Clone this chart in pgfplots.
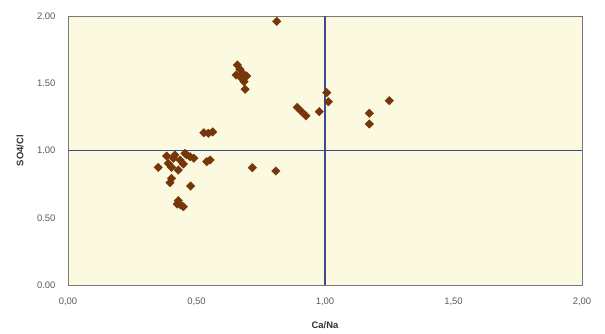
\documentclass[border=0pt]{standalone}
\usepackage{fontspec}
\setmainfont{Liberation Sans}
\usepackage{pgfplots}
\pgfplotsset{compat=1.18}
\definecolor{bgcream}{RGB}{251,249,224}
\definecolor{markbrown}{RGB}{118,54,10}
\definecolor{refline}{RGB}{62,74,140}
\definecolor{framegray}{RGB}{120,120,120}
\definecolor{ticktext}{RGB}{90,90,90}
\begin{document}
\begin{tikzpicture}[x=1bp,y=1bp]
\path[use as bounding box] (-68,-48) rectangle (537,285);
\begin{axis}[
  at={(0,0)}, anchor=south west,
  scale only axis, width=514bp, height=269bp,
  xmin=0, xmax=2, ymin=0, ymax=2,
  xtick={0,0.5,1,1.5,2}, ytick={0,0.5,1,1.5,2},
  xticklabels={0{,}00,0{,}50,1{,}00,1{,}50,2{,}00},
  yticklabels={0.00,0.50,1.00,1.50,2.00},
  major tick length=0pt,
  tick label style={font=\fontsize{9.5}{11}\selectfont, text=ticktext},
  xticklabel style={yshift=-9bp},
  yticklabel style={xshift=-9bp},
  axis background/.style={fill=bgcream},
  axis line style={framegray, line width=0.6pt},
  xlabel={\textbf{Ca/Na}}, ylabel={\textbf{SO4/Cl}},
  label style={font=\fontsize{9.5}{11}\selectfont, text=black!80},
  xlabel style={at={(axis description cs:0.5,0)}, anchor=north, yshift=-33bp},
  ylabel style={at={(axis description cs:0,0.5)}, anchor=south, yshift=41bp},
  clip=false,
]
\addplot[refline, line width=1.1pt, forget plot] coordinates {(0,1) (2,1)};
\addplot[refline, line width=1.1pt, forget plot] coordinates {(1,0) (1,2)};
\addplot[only marks, mark=square*, mark size=3pt, color=markbrown, mark options={rotate=45, fill=markbrown, draw=markbrown}] coordinates {
(0.812,1.960)
(0.659,1.636) (0.669,1.604) (0.654,1.561) (0.680,1.574) (0.695,1.554)
(0.685,1.512) (0.689,1.455) (0.676,1.537)
(0.892,1.321) (0.909,1.289) (0.926,1.257) (0.978,1.289)
(1.007,1.430) (1.013,1.363)
(0.717,0.872) (0.809,0.848)
(1.250,1.370) (1.173,1.277) (1.173,1.197)
(0.529,1.132) (0.563,1.138) (0.546,1.128)
(0.384,0.959) (0.410,0.942) (0.455,0.979) (0.475,0.954) (0.490,0.942)
(0.436,0.929) (0.390,0.905) (0.351,0.875) (0.403,0.875) (0.429,0.855)
(0.449,0.900) (0.540,0.917) (0.553,0.929)
(0.403,0.793) (0.397,0.761) (0.477,0.736)
(0.429,0.627) (0.438,0.595) (0.449,0.582) (0.425,0.602)
(0.462,0.967) (0.416,0.967)
};
\end{axis}
\end{tikzpicture}
\end{document}
